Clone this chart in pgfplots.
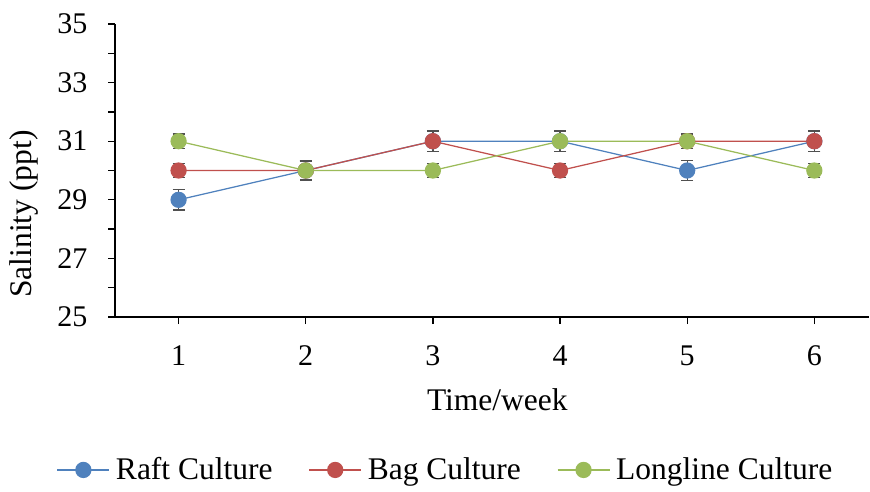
\documentclass[border=0pt]{standalone}
\usepackage{pgfplots}
\pgfplotsset{compat=1.18}
\usepackage{fontspec}
\setmainfont{Liberation Serif}
\definecolor{raft}{HTML}{4F81BD}
\definecolor{bag}{HTML}{C0504D}
\definecolor{longl}{HTML}{9BBB59}
\definecolor{errc}{HTML}{505050}
\pgfplotsset{myerr/.style={
    error bars/y dir=both, error bars/y explicit,
    error bars/error bar style={line width=0.5pt, color=errc, solid},
    error bars/error mark options={rotate=90, mark size=2.4pt, line width=0.5pt, color=errc}}}
\begin{document}
\begin{tikzpicture}[x=1pt,y=1pt]
\useasboundingbox (0,0) rectangle (348,196.4);
\begin{axis}[at={(46pt,69.6pt)}, anchor=south west, scale only axis,
  width=301.6pt, height=117.2pt,
  xmin=0.5, xmax=6.43, ymin=25, ymax=35,
  axis x line*=bottom, axis y line*=left,
  axis line style={line width=0.5pt, -},
  xtick={1,...,6}, ytick={25,27,...,35}, minor ytick={26,28,...,34},
  tick align=outside, major tick length=2.8pt, minor tick length=2.8pt,
  tick style={black, line width=0.5pt},
  every tick label/.append style={font=\fontsize{12}{14}\selectfont, inner sep=0pt},
  xticklabel style={anchor=center, yshift=-12.8pt},
  yticklabel style={anchor=east, xshift=-8pt},
  /pgf/number format/assume math mode=true,
  xlabel={Time/week}, ylabel={Salinity (ppt)},
  label style={font=\fontsize{12.6}{14}\selectfont},
  xlabel style={at={(axis description cs:0.507,-0.283)}, anchor=center},
  ylabel style={at={(axis description cs:-0.1207,0.3515)}, anchor=center},
  legend style={at={(0.441,-0.522)}, anchor=center, draw=none,
    legend columns=3, font=\fontsize{12.6}{14}\selectfont,
    nodes={inner xsep=2.4pt, inner ysep=1pt},
    /tikz/every even column/.append style={column sep=12pt}},
  legend image code/.code={\draw[mark repeat=2,mark phase=2,#1] plot coordinates {(0pt,0pt)(10.4pt,0pt)(20.8pt,0pt)};},
]
\addplot[color=raft, line width=0.5pt, mark=*, mark size=3pt, mark options={fill=raft, draw=raft}, myerr] coordinates {
  (1,29) +- (0,0.35) (2,30) +- (0,0.35) (3,31) +- (0,0.35)
  (4,31) +- (0,0.35) (5,30) +- (0,0.35) (6,31) +- (0,0.35)};
\addlegendentry{Raft Culture}
\addplot[color=bag, line width=0.5pt, mark=*, mark size=3pt, mark options={fill=bag, draw=bag}, myerr] coordinates {
  (1,30) +- (0,0.25) (2,30) +- (0,0.3) (3,31) +- (0,0.35)
  (4,30) +- (0,0.25) (5,31) +- (0,0.25) (6,31) +- (0,0.35)};
\addlegendentry{Bag Culture}
\addplot[color=longl, line width=0.5pt, mark=*, mark size=3pt, mark options={fill=longl, draw=longl}, myerr] coordinates {
  (1,31) +- (0,0.25) (2,30) +- (0,0.35) (3,30) +- (0,0.25)
  (4,31) +- (0,0.35) (5,31) +- (0,0.25) (6,30) +- (0,0.25)};
\addlegendentry{Longline Culture}
\end{axis}
\end{tikzpicture}
\end{document}
